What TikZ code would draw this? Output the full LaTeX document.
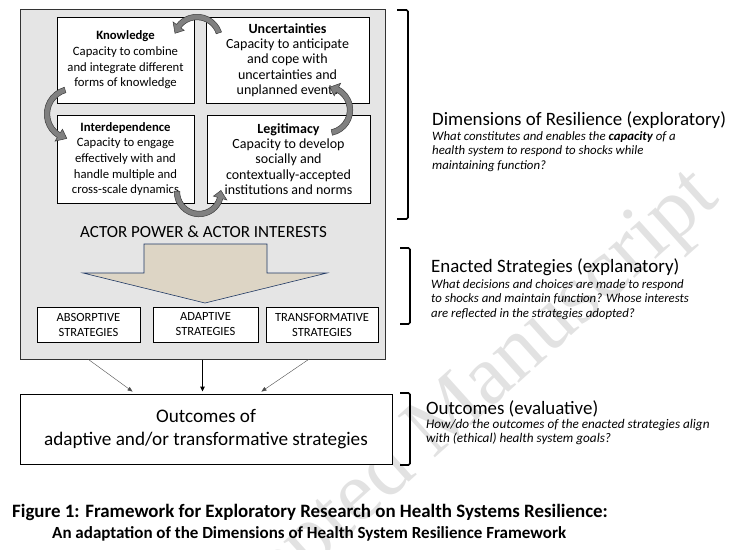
\documentclass[tikz,border=0pt]{standalone}
\usepackage{fontspec}
\setmainfont{Carlito}
\newfontfamily\wmfont{Liberation Serif}
\usetikzlibrary{arrows.meta,calc}
\definecolor{panelgray}{RGB}{229,229,229}
\definecolor{sand}{RGB}{221,213,197}
\definecolor{navyline}{RGB}{31,56,100}
\definecolor{cycgray}{RGB}{128,128,128}
\definecolor{cycdark}{RGB}{60,60,60}
\definecolor{wmgray}{RGB}{226,226,226}

% curved arrow between the dimension boxes: centre x, centre y, radius, tail angle, tip angle
\newcommand{\cycarrow}[5]{%
  \filldraw[cycarr]
    ($(#1,#2)+({#4}:{#3+2.8})$) arc[start angle={#4}, end angle={#5+20}, radius={#3+2.8}]
    -- ($(#1,#2)+({#5+20}:{#3+7})$)
    -- ($(#1,#2)+({#5}:{#3})$)
    -- ($(#1,#2)+({#5+20}:{#3-7})$)
    -- ($(#1,#2)+({#5+20}:{#3-2.8})$)
    arc[start angle={#5+20}, end angle={#4}, radius={#3-2.8}] -- cycle;}
\newcommand{\dimtitle}[2]{{\fontsize{#1}{15.3}\selectfont\textbf{#2}}}

\begin{document}
\begin{tikzpicture}[x=1pt,y=-1pt,
	dimbox/.style={draw=black,fill=white,line width=.9pt,align=center,inner sep=0pt},
	leftdim/.style={dimbox,minimum width=137pt,font=\fontsize{12.7}{15.6}\selectfont},
	rightdim/.style={dimbox,minimum width=163pt,font=\fontsize{14}{15.3}\selectfont},
	stratbox/.style={draw=black,fill=white,line width=.8pt,align=center,inner sep=0pt,
		minimum height=35pt,font=\fontsize{12.5}{15}\selectfont},
	cycarr/.style={fill=cycgray,draw=cycdark,line width=.5pt},
	bracket/.style={line width=1.7pt,rounded corners=1.5pt},
	headtxt/.style={anchor=base west,inner sep=0pt,font=\fontsize{18.9}{22}\selectfont},
	asktxt/.style={anchor=north west,inner sep=0pt,align=left,
		font=\fontsize{12.8}{14.5}\selectfont\itshape},
	captxt/.style={anchor=base west,inner sep=0pt},
	thinarr/.style={draw=black!70,line width=.4pt,-{Triangle[length=5pt,width=4pt]}},
	thickarr/.style={draw=black,line width=.9pt,-{Triangle[length=5pt,width=4.5pt]}},
	]
	\useasboundingbox (0,0) rectangle (730,549);

	% watermark
	\node[anchor=base west,inner sep=0pt,rotate=42,text=wmgray,
		font=\wmfont\fontsize{85}{90}\selectfont] (wmark) at (179,689) {Accepted Manuscript};

	% grey panel
	\node[draw=black!80,fill=panelgray,line width=1pt,minimum width=365pt,minimum height=350pt] (panel) at (202.5,184) {};

	% the four dimensions
	\node[leftdim,minimum height=86pt] (know) at (125.5,60)
		{\dimtitle{12.7}{Knowledge}\\Capacity to combine\\and integrate different\\forms of knowledge};
	\node[rightdim,minimum height=86pt] (unc) at (287.5,60)
		{\dimtitle{14}{Uncertainties}\\Capacity to anticipate\\and cope with\\uncertainties and\\unplanned events};
	\node[leftdim,minimum height=88pt] (inter) at (125.5,159)
		{\dimtitle{12.7}{Interdependence}\\Capacity to engage\\effectively with and\\handle multiple and\\cross-scale dynamics};
	\node[rightdim,minimum height=88pt] (legit) at (288.5,159)
		{\dimtitle{14}{Legitimacy}\\Capacity to develop\\socially and\\contextually-accepted\\institutions and norms};

	% cycle
	\cycarrow{197}{40}{23}{-18}{-163}
	\cycarrow{72}{114}{25}{-106}{-258}
	\cycarrow{199}{192}{22}{182}{-4}
	\cycarrow{327}{110}{23}{78}{-83}

	\node[anchor=base,inner sep=0pt,font=\fontsize{17}{20}\selectfont] (actors) at (203.5,237)
		{ACTOR POWER \& ACTOR INTERESTS};

	% big arrow
	\filldraw[fill=sand,draw=navyline,line width=.6pt]
		(144,244) -- (267,244) -- (267,273) -- (327,273) -- (205,303) -- (83,273) -- (144,273) -- cycle;

	% strategies
	\node[stratbox,minimum width=103pt] (absorb) at (88.5,324.5) {ABSORPTIVE\\STRATEGIES};
	\node[stratbox,minimum width=105pt] (adapt) at (205.5,324.5) {ADAPTIVE\\STRATEGIES};
	\node[stratbox,minimum width=112pt] (transf) at (322,324.5) {TRANSFORMATIVE\\STRATEGIES};

	% outcomes
	\node[draw=black,fill=white,line width=.9pt,minimum width=372pt,minimum height=70pt,
		align=center,font=\fontsize{19.2}{23.5}\selectfont] (outc) at (206,429)
		{Outcomes of\\adaptive and/or transformative strategies};

	\draw[thinarr] ([xshift=69pt]panel.south west) -- ([xshift=113pt,yshift=2pt]outc.north west);
	\draw[thickarr] (panel.south) -- ([yshift=2pt]outc.north -| panel.south);
	\draw[thinarr] ([xshift=-77pt]panel.south east) -- ([xshift=-131pt,yshift=2pt]outc.north east);

	% brackets
	\draw[bracket] (397,10) -- (408,10) -- (408,219) -- (397,219);
	\draw[bracket] (400,248) -- (410,248) -- (410,324) -- (400,324);
	\draw[bracket] (400,393) -- (410,393) -- (410,465) -- (400,465);

	% right column
	\node[headtxt] (dimhead) at (432,125) {Dimensions of Resilience (exploratory)};
	\node[asktxt] (dimask) at (432,131) {What constitutes and enables the \textbf{capacity} of a\\
		health system to respond to shocks while\\maintaining function?};

	\node[headtxt] (enhead) at (431,272) {Enacted Strategies (explanatory)};
	\node[asktxt] (enask) at (431,279) {What decisions and choices are made to respond\\
		to shocks and maintain function? Whose interests\\are reflected in the strategies adopted?};

	\node[headtxt] (outhead) at (426,414.5) {Outcomes (evaluative)};
	\node[asktxt,font=\fontsize{13.2}{14.5}\selectfont\itshape] (outask) at (426,419)
		{How/do the outcomes of the enacted strategies align\\with (ethical) health system goals?};

	% caption
	\node[captxt,font=\bfseries\fontsize{18.9}{22}\selectfont] (cap1) at (12,517)
		{Figure 1: Framework for Exploratory Research on Health Systems Resilience:};
	\node[captxt,font=\bfseries\fontsize{17}{20}\selectfont] (cap2) at (52,538)
		{An adaptation of the Dimensions of Health System Resilience Framework};
\end{tikzpicture}
\end{document}
